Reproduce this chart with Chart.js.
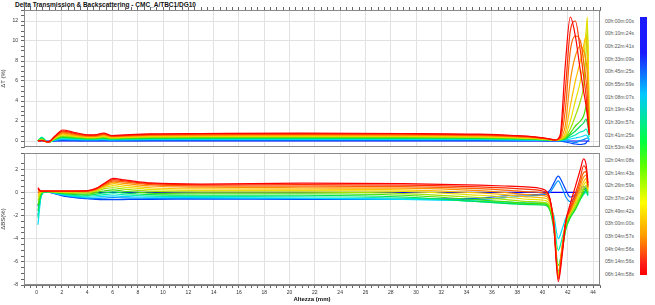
<!DOCTYPE html>
<html><head><meta charset="utf-8">
<script src="https://cdn.jsdelivr.net/npm/chart.js@4.4.1/dist/chart.umd.min.js"></script>
<style>
html,body{margin:0;padding:0;background:#fff;width:655px;height:305px;overflow:hidden;font-family:"Liberation Sans",Arial,sans-serif}
#title{position:absolute;left:15px;top:0px;font-weight:bold;font-size:6.5px;line-height:9px;color:#111;white-space:nowrap}
.cw{position:absolute;left:0}
.lab{position:absolute;left:605px;font-size:5px;color:#555;white-space:nowrap;line-height:6px}
#bar{position:absolute;left:640px;top:17px;width:7px;height:258px;background:linear-gradient(to bottom,#1a1aff 0%,#1a1aff 14%,#00c8ff 30%,#00ff40 48%,#60ff00 58%,#ffff00 72%,#ff9900 85%,#ff1a1a 96%,#ff0000 100%)}
</style></head>
<body>
<div id="title">Delta Transmission &amp; Backscattering - CMC_A/TBC1/DG10</div>
<div class="cw" style="top:0"><canvas id="cTop" width="605" height="153"></canvas></div>
<div class="cw" style="top:147px"><canvas id="cBot" width="605" height="158"></canvas></div>
<div id="legend"></div>
<div id="bar"></div>
<script>
// ---- data ----
const scanTimes = ['00h:00m:00s','00h:10m:24s','00h:22m:41s','00h:33m:09s','00h:45m:25s','00h:55m:59s','01h:08m:07s','01h:19m:43s','01h:30m:57s','01h:41m:25s','01h:53m:43s','02h:04m:08s','02h:14m:43s','02h:26m:59s','02h:37m:24s','02h:49m:42s','03h:00m:00s','03h:04m:57s','04h:04m:56s','05h:14m:56s','06h:14m:58s'];

// heights (mm) for the transmission panel
const heightT = [0.1, 0.4, 0.9, 1.45, 2.05, 3.0, 4.2, 4.75, 5.3, 5.95, 7.0, 9, 13, 21, 29, 35, 37.8, 39.4, 40.4, 41.0, 41.4, 41.8, 42.2, 42.6, 43.0, 43.25, 43.45, 43.55, 43.7];
const dT00 = [0,0,0,0,0,0,0,0,0,0,0,0,0,0,0,0,0,0,0,0,0,0,0,0,0,0,0,0,0];
const dT01 = [0, 0.05, -0.05, 0.02, 0.06, 0.05, 0.04, 0.04, 0.05, 0.04, 0.04, 0.05, 0.05, 0.05, 0.05, 0.05, 0.04, 0.03, 0.02, 0.02, 0, -0.1, -0.2, -0.3, -0.35, -0.3, -0.2, 0, 0];
const dT02 = [0, 0.1, -0.08, 0.05, 0.13, 0.11, 0.08, 0.09, 0.1, 0.08, 0.09, 0.1, 0.11, 0.11, 0.11, 0.1, 0.08, 0.06, 0.04, 0.03, 0.02, 0, -0.05, -0.15, 0.05, 0.15, 0.25, 0.3, 0.1];
const dT03 = [0, 0.35, -0.12, 0.09, 0.2, 0.17, 0.13, 0.14, 0.16, 0.12, 0.14, 0.16, 0.17, 0.17, 0.17, 0.15, 0.12, 0.09, 0.06, 0.04, 0.05, 0.1, 0.2, 0.3, 0.4, 0.5, 0.6, 0.5, 0.2];
const dT04 = [0, 0.4, -0.15, 0.13, 0.28, 0.23, 0.18, 0.19, 0.22, 0.16, 0.19, 0.22, 0.23, 0.24, 0.23, 0.21, 0.17, 0.13, 0.08, 0.05, 0.08, 0.15, 0.4, 0.6, 0.9, 1.0, 1.2, 1.0, 0.4];
const dT05 = [0, 0.3, -0.15, 0.17, 0.36, 0.29, 0.22, 0.24, 0.28, 0.2, 0.23, 0.27, 0.28, 0.29, 0.28, 0.26, 0.21, 0.16, 0.1, 0.06, 0.1, 0.2, 0.6, 1.0, 1.5, 1.8, 2.2, 1.8, 0.6];
const dT06 = [0, 0.2, -0.14, 0.21, 0.44, 0.35, 0.27, 0.29, 0.34, 0.25, 0.28, 0.33, 0.34, 0.36, 0.34, 0.31, 0.25, 0.19, 0.12, 0.07, 0.12, 0.3, 0.8, 1.5, 2.0, 2.5, 3.5, 4.0, 0.8];
const dT07 = [0, 0.15, -0.13, 0.25, 0.52, 0.41, 0.31, 0.33, 0.4, 0.29, 0.33, 0.38, 0.4, 0.42, 0.4, 0.37, 0.3, 0.23, 0.14, 0.08, 0.14, 0.4, 1.2, 2.5, 4.0, 5.5, 9.0, 11.5, 1.0];
const dT08 = [0, 0.1, -0.12, 0.29, 0.6, 0.48, 0.36, 0.38, 0.46, 0.33, 0.38, 0.44, 0.46, 0.48, 0.46, 0.42, 0.34, 0.26, 0.16, 0.09, 0.16, 0.5, 2.0, 4.0, 6.0, 8.0, 11.0, 12.4, 1.2];
const dT09 = [0, 0.08, -0.12, 0.33, 0.68, 0.54, 0.41, 0.43, 0.52, 0.38, 0.43, 0.5, 0.52, 0.54, 0.52, 0.47, 0.38, 0.29, 0.18, 0.1, 0.2, 0.8, 3.5, 6.0, 8.0, 9.5, 10.5, 9.0, 1.2];
const dT10 = [0, 0.07, -0.11, 0.38, 0.78, 0.61, 0.46, 0.48, 0.6, 0.42, 0.48, 0.56, 0.58, 0.6, 0.58, 0.53, 0.43, 0.33, 0.2, 0.1, 0.25, 1.5, 6.0, 8.5, 9.5, 9.0, 8.0, 6.5, 1.0];
const dT11 = [0, 0.06, -0.11, 0.42, 0.88, 0.69, 0.51, 0.54, 0.67, 0.47, 0.53, 0.62, 0.64, 0.67, 0.64, 0.58, 0.47, 0.36, 0.22, 0.1, 0.3, 3.0, 9.0, 10.5, 10.0, 8.0, 6.0, 4.5, 0.8];
const dT12 = [0, 0.05, -0.1, 0.46, 0.98, 0.77, 0.56, 0.59, 0.73, 0.51, 0.57, 0.67, 0.7, 0.72, 0.7, 0.63, 0.51, 0.39, 0.23, 0.1, 0.4, 5.0, 11.0, 12.0, 9.0, 6.5, 4.5, 3.0, 0.8];
const dT13 = [0, 0.05, -0.1, 0.5, 1.1, 0.85, 0.62, 0.65, 0.8, 0.55, 0.62, 0.72, 0.75, 0.78, 0.75, 0.68, 0.55, 0.42, 0.25, 0.1, 0.6, 7.5, 12.4, 10.5, 7.0, 5.0, 3.5, 2.5, 0.6];

// heights (mm) for the backscattering panel
const heightBS = [0.1, 0.35, 0.65, 1.05, 2.05, 3.0, 4.05, 4.7, 5.3, 6.1, 6.75, 7.8, 9, 13, 21, 29, 35, 37, 39, 40.2, 40.6, 40.9, 41.25, 41.55, 41.85, 42.2, 42.6, 43.0, 43.25, 43.45, 43.6];
const dBS00 = [0,0,0,0,0,0,0,0,0,0,0,0,0,0,0,0,0,0,0,0,0,0,0,0,0,0,0,0,0,0,0];
const dBS01 = [-1.2, -0.2, 0.05, 0.0, -0.3, -0.45, -0.55, -0.6, -0.62, -0.62, -0.62, -0.6, -0.6, -0.58, -0.6, -0.6, -0.5, -0.3, -0.2, -0.1, 0.2, 0.8, 1.4, 0.9, 0.2, -0.4, -0.2, 0.3, 0.5, 0.3, 0.0];
const dBS02 = [-2.0, -0.3, 0.05, 0.0, -0.25, -0.4, -0.5, -0.52, -0.5, -0.45, -0.48, -0.5, -0.52, -0.52, -0.55, -0.6, -0.6, -0.45, -0.3, -0.2, 0.0, 0.5, 1.0, 0.4, -0.4, -0.8, -0.4, 0.1, 0.3, 0.2, -0.1];
const dBS03 = [-2.8, -0.4, 0.05, 0.02, -0.2, -0.35, -0.42, -0.4, -0.35, -0.3, -0.35, -0.4, -0.42, -0.45, -0.5, -0.6, -0.75, -0.85, -0.9, -0.9, -1.2, -2.0, -4.0, -3.2, -2.2, -1.5, -0.9, -0.4, 0.0, 0.1, -0.2];
const dBS04 = [-2.2, -0.3, 0.05, 0.03, -0.15, -0.28, -0.33, -0.28, -0.2, -0.12, -0.2, -0.27, -0.32, -0.36, -0.38, -0.5, -0.8, -0.95, -1.0, -1.0, -1.4, -2.6, -5.0, -4.0, -2.8, -1.9, -1.2, -0.6, -0.2, 0.0, -0.3];
const dBS05 = [-1.6, -0.2, 0.06, 0.04, -0.1, -0.2, -0.24, -0.15, -0.05, 0.05, -0.05, -0.13, -0.2, -0.25, -0.25, -0.4, -0.8, -0.95, -1.05, -1.1, -1.6, -3.2, -6.3, -5.0, -3.2, -2.2, -1.5, -0.6, -0.1, 0.2, -0.2];
const dBS06 = [-1.1, -0.1, 0.07, 0.05, -0.05, -0.12, -0.15, -0.02, 0.12, 0.22, 0.12, 0.03, -0.06, -0.12, -0.12, -0.25, -0.65, -0.8, -0.95, -1.0, -1.5, -3.0, -6.8, -5.2, -3.0, -2.1, -1.4, -0.5, 0.1, 0.4, 0.0];
const dBS07 = [-0.7, 0.0, 0.08, 0.06, 0.0, -0.05, -0.05, 0.08, 0.3, 0.4, 0.3, 0.2, 0.1, 0.02, 0.02, -0.1, -0.45, -0.6, -0.8, -0.9, -1.3, -2.8, -7.0, -5.0, -2.8, -1.9, -1.2, -0.3, 0.3, 0.6, 0.1];
const dBS08 = [-0.4, 0.05, 0.09, 0.08, 0.04, 0.02, 0.03, 0.15, 0.42, 0.58, 0.48, 0.36, 0.25, 0.15, 0.15, 0.08, -0.25, -0.4, -0.6, -0.7, -1.1, -2.6, -7.1, -4.8, -2.6, -1.8, -1.0, 0.0, 0.6, 0.9, 0.2];
const dBS09 = [-0.2, 0.08, 0.1, 0.09, 0.07, 0.06, 0.07, 0.2, 0.5, 0.75, 0.65, 0.52, 0.4, 0.3, 0.28, 0.22, -0.05, -0.2, -0.4, -0.5, -0.9, -2.5, -7.2, -4.7, -2.5, -1.7, -0.8, 0.3, 0.9, 1.2, 0.3];
const dBS10 = [0.0, 0.1, 0.1, 0.1, 0.09, 0.09, 0.1, 0.24, 0.57, 0.88, 0.8, 0.67, 0.55, 0.45, 0.4, 0.36, 0.15, 0.0, -0.2, -0.3, -0.8, -2.5, -7.3, -4.8, -2.5, -1.6, -0.6, 0.6, 1.3, 1.5, 0.4];
const dBS11 = [0.15, 0.1, 0.1, 0.11, 0.1, 0.1, 0.12, 0.28, 0.64, 1.0, 0.92, 0.8, 0.67, 0.56, 0.54, 0.5, 0.32, 0.2, 0.05, -0.1, -0.7, -2.6, -7.4, -5.0, -2.5, -1.5, -0.4, 0.9, 1.7, 1.8, 0.5];
const dBS12 = [0.3, 0.1, 0.1, 0.11, 0.11, 0.11, 0.13, 0.32, 0.7, 1.1, 1.02, 0.88, 0.75, 0.65, 0.67, 0.63, 0.48, 0.38, 0.25, 0.05, -0.6, -2.8, -7.5, -5.2, -2.5, -1.3, -0.1, 1.3, 2.3, 2.0, 0.6];
const dBS13 = [0.4, 0.1, 0.1, 0.12, 0.12, 0.12, 0.15, 0.35, 0.75, 1.2, 1.1, 0.95, 0.82, 0.72, 0.8, 0.75, 0.62, 0.55, 0.45, 0.2, -0.6, -3.0, -7.7, -5.5, -2.5, -1.0, 0.5, 2.0, 2.9, 2.4, 0.8];

// ---- styles ----
const scanColors = ['#0000ff','#0044ff','#0090ff','#00d8ff','#00f0b0','#00e050','#40e000','#a0e000','#e8e000','#ffc000','#ff9000','#ff6000','#ff3000','#ff0000'];

const seriesT = [dT00,dT01,dT02,dT03,dT04,dT05,dT06,dT07,dT08,dT09,dT10,dT11,dT12,dT13];
const seriesBS = [dBS00,dBS01,dBS02,dBS03,dBS04,dBS05,dBS06,dBS07,dBS08,dBS09,dBS10,dBS11,dBS12,dBS13];

function isMult(v, m){ return Math.abs(v/m - Math.round(v/m)) < 1e-6; }

const frame = {id:'frame', afterDraw(c){
  const a=c.chartArea, g=c.ctx; g.save(); g.strokeStyle='#8a8a8a'; g.lineWidth=1;
  g.strokeRect(Math.round(a.left)+0.5, Math.round(a.top)+0.5, Math.round(a.right-a.left)-1, Math.round(a.bottom-a.top)-1);
  g.restore();
}};

function build(id, xs, series, yMin, yMax, yTitle, isBottom, pad, yGridStep){
  const datasets=[];
  for(let i=series.length-1;i>=0;i--){
    datasets.push({data: xs.map((x,k)=>({x:x,y:series[i][k]})), borderColor:scanColors[i], borderWidth:1.2,
      pointRadius:0, fill:false, cubicInterpolationMode:'monotone'});
  }
  const xGrid = (ctx)=> (ctx.tick && isMult(ctx.tick.value,2)) ? '#e2e2e2' : 'rgba(0,0,0,0)';
  const yGrid = (ctx)=> (ctx.tick && isMult(ctx.tick.value,yGridStep)) ? '#e2e2e2' : 'rgba(0,0,0,0)';
  return new Chart(document.getElementById(id), {
    type:'line', data:{datasets},
    plugins:[frame],
    options:{
      responsive:false, animation:false, events:[],
      layout:{padding:pad},
      plugins:{legend:{display:false}, tooltip:{enabled:false}, title:{display:false}},
      scales:{
        x:{type:'linear', position: isBottom?'bottom':'top', min:-1.0, max:44.55,
          ticks:{stepSize:0.5, autoSkip:false, maxRotation:0, display:isBottom, font:{size:5, family:'Liberation Sans'}, color:'#333', padding:2,
            callback:(v)=> isMult(v,2) ? String(v) : ''},
          grid:{color:xGrid, tickColor:'#666', tickLength:3},
          border:{display:true, color:'#777'},
          title:{display:isBottom, text:'Altezza (mm)', font:{size:6, weight:'bold', family:'Liberation Sans'}, color:'#111', padding:0},
          afterFit:(s)=>{ s.height = isBottom ? 18 : 4; }
        },
        y:{type:'linear', min:yMin, max:yMax,
          ticks:{stepSize:0.5, autoSkip:false, font:{size:5, family:'Liberation Sans'}, color:'#333', padding:3,
            callback:(v)=> isMult(v,2) ? String(v) : ''},
          grid:{color:yGrid, tickColor:'#666', tickLength:3},
          border:{display:true, color:'#777'},
          title:{display:true, text:yTitle, font:{size:6, family:'Liberation Sans'}, color:'#333', padding:0},
          afterFit:(s)=>{ s.width = 24; }
        }
      }
    }
  });
}

build('cTop', heightT, seriesT, -0.6, 13.1, '\u0394T (%)', false, {left:0, right:5, top:6, bottom:3}, 2);
build('cBot', heightBS, seriesBS, -8.0, 3.4, '\u0394BS(%)', true, {left:0, right:5, top:2, bottom:2}, 2);

// legend labels
const lg = document.getElementById('legend');
scanTimes.forEach((t,i)=>{
  const d=document.createElement('div'); d.className='lab'; d.textContent=t;
  d.style.top = (20.7 + i*12.66 - 3) + 'px'; lg.appendChild(d);
});
</script>
</body></html>
